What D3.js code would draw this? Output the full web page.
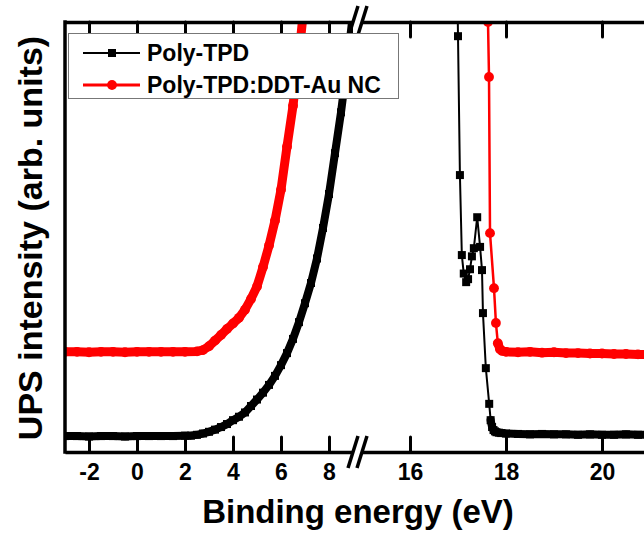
<!DOCTYPE html>
<html lang="en">

<head>
    <meta charset="UTF-8">
    <title>UPS spectra</title>
    <script src="https://d3js.org/d3.v7.min.js"></script>
    <style>
        body { margin: 0; background: #fff; }
        text { font-family: "Liberation Sans", Arial, sans-serif; font-weight: bold; fill: #000; }
    </style>
</head>

<body>
    <div id="chart"></div>

    <script>
        // Series names for the legend
        const seriesNames = ["Poly-TPD", "Poly-TPD:DDT-Au NC"];

        // [binding energy (eV), intensity (arb.)]
        // low energy part (left of the axis break)
        const polyTpdLow = [
            [-3, 3.7], [-2.5, 3.7], [-2, 3.6], [-1.5, 3.7], [-1, 3.7], [-0.5, 3.6], [0, 3.7], [0.5, 3.7],
            [1, 3.7], [1.5, 3.7], [2, 3.8], [2.25, 3.8], [2.5, 4.0], [2.75, 4.3], [3, 4.7], [3.25, 5.2],
            [3.5, 5.8], [3.75, 6.5], [4, 7.4], [4.25, 8.2], [4.5, 9.2], [4.75, 10.7], [5, 12.2], [5.25, 13.8],
            [5.5, 15.6], [5.75, 17.7], [6, 20.2], [6.25, 23.0], [6.5, 26.3], [6.75, 30.2], [7, 34.6],
            [7.25, 39.3], [7.5, 45.0], [7.75, 52.1], [8, 60.0], [8.25, 69.5], [8.5, 79.0], [8.75, 90.0], [9, 102]
        ];
        const auNcLow = [
            [-3, 23.3], [-2.5, 23.3], [-2, 23.2], [-1.5, 23.3], [-1, 23.3], [-0.5, 23.2], [0, 23.3], [0.5, 23.3],
            [1, 23.3], [1.5, 23.3], [2, 23.3], [2.5, 23.4], [2.75, 23.7], [3, 24.6], [3.25, 25.9], [3.5, 27.2],
            [3.75, 28.6], [4, 29.9], [4.25, 31.2], [4.5, 33.1], [4.75, 35.6], [5, 38.5], [5.25, 43.0],
            [5.5, 48.0], [5.75, 53.8], [6, 61.0], [6.25, 71.0], [6.5, 80.5], [6.75, 92.5], [7, 106]
        ];
        // high energy part (right of the axis break)
        const polyTpdHigh = [
            [16.96, 130], [17.0, 96.7], [17.04, 64.4], [17.08, 45.8], [17.12, 41.5], [17.17, 39.5],
            [17.21, 40.2], [17.25, 42.5], [17.29, 45.5], [17.33, 47.4], [17.4, 54.6], [17.46, 47.7],
            [17.5, 42.3], [17.52, 32.3], [17.58, 19.5], [17.65, 11.2], [17.68, 7.4], [17.71, 5.8],
            [17.74, 5.1], [17.77, 4.8], [17.8, 4.6], [17.85, 4.5], [17.9, 4.4], [18, 4.3], [18.25, 4.2],
            [18.5, 4.1], [18.75, 4.2], [19, 4.1], [19.25, 4.1], [19.5, 4.0], [19.75, 4.1], [20, 4.0],
            [20.25, 4.0], [20.5, 4.1], [20.75, 4.0], [21, 4.0]
        ];
        const auNcHigh = [
            [17.6, 120], [17.625, 100], [17.646, 87.2], [17.667, 50.9], [17.75, 38.1], [17.79, 30.0],
            [17.83, 25.3], [17.875, 23.9], [17.92, 23.5], [18, 23.3], [18.25, 23.2], [18.5, 23.3],
            [18.75, 23.1], [19, 23.2], [19.25, 23.0], [19.5, 23.0], [19.75, 22.9], [20, 22.9],
            [20.25, 22.8], [20.5, 22.8], [20.75, 22.7], [21, 22.7]
        ];

        // Tick labels on both sides of the break
        const lowTicks = [-2, 0, 2, 4, 6, 8];
        const highTicks = [16, 18, 20];

        // where the dense (merged marker) part of the high energy curves begins
        const polyTpdDenseFrom = 17.68;
        const auNcDenseFrom = 17.83;

        // Layout
        const width = 644, height = 535;
        const plotLeft = 65, plotTop = 22, plotBottom = 452;
        const breakLeft = 353, breakRight = 362, plotRight = 650;

        const xLow = d3.scaleLinear().domain([-3, 9]).range([plotLeft, breakLeft]);
        const xHigh = d3.scaleLinear().domain([15, 21]).range([breakRight, plotRight]);
        const yScale = d3.scaleLinear().domain([0, 100]).range([plotBottom, plotTop]);

        const svg = d3.select("#chart")
            .append("svg")
            .attr("width", width)
            .attr("height", height);

        const defs = svg.append("defs");
        defs.append("clipPath").attr("id", "clip-low")
            .append("rect")
            .attr("x", plotLeft).attr("y", plotTop)
            .attr("width", breakLeft - plotLeft).attr("height", plotBottom - plotTop);
        defs.append("clipPath").attr("id", "clip-high")
            .append("rect")
            .attr("x", breakRight).attr("y", plotTop)
            .attr("width", plotRight - breakRight).attr("height", plotBottom - plotTop);

        const squareSym = d3.symbol(d3.symbolSquare, 64);
        const circleSym = d3.symbol(d3.symbolCircle, 76);

        // draw one series on one side of the break
        function drawSeries(g, data, x, color, symbol, thinWidth, thickWidth, denseFrom) {
            const line = d3.line().x(d => x(d[0])).y(d => yScale(d[1]));

            g.append("path")
                .datum(data)
                .attr("fill", "none")
                .attr("stroke", color)
                .attr("stroke-width", thinWidth)
                .attr("stroke-linejoin", "round")
                .attr("d", line);

            // the dense part reads as a thick band of markers
            g.append("path")
                .datum(data.filter(d => d[0] >= denseFrom))
                .attr("fill", "none")
                .attr("stroke", color)
                .attr("stroke-width", thickWidth)
                .attr("stroke-linejoin", "round")
                .attr("stroke-linecap", "round")
                .attr("d", line);

            g.selectAll(null)
                .data(data)
                .enter()
                .append("path")
                .attr("d", symbol)
                .attr("fill", color)
                .attr("transform", d => "translate(" + x(d[0]) + "," + yScale(d[1]) + ")");
        }

        const lowG = svg.append("g").attr("clip-path", "url(#clip-low)");
        const highG = svg.append("g").attr("clip-path", "url(#clip-high)");

        drawSeries(lowG, auNcLow, xLow, "#ff0000", circleSym, 2.5, 9, -Infinity);
        drawSeries(lowG, polyTpdLow, xLow, "#000000", squareSym, 2, 8, -Infinity);
        drawSeries(highG, auNcHigh, xHigh, "#ff0000", circleSym, 2.5, 9, auNcDenseFrom);
        drawSeries(highG, polyTpdHigh, xHigh, "#000000", squareSym, 2, 8, polyTpdDenseFrom);

        // Axes (ticks point inward)
        function styleAxis(g) {
            g.select(".domain").attr("stroke", "#000").attr("stroke-width", 3.5);
            g.selectAll(".tick line")
                .attr("stroke", "#000")
                .attr("stroke-width", 3)
                .attr("stroke-linecap", "round");
            g.selectAll(".tick text")
                .style("font-size", "23px")
                .attr("fill", "#000");
        }

        [[xLow, lowTicks], [xHigh, highTicks]].forEach(([x, ticks]) => {
            svg.append("g")
                .attr("transform", "translate(0," + plotBottom + ")")
                .call(d3.axisBottom(x).tickValues(ticks).tickSizeInner(-15).tickSizeOuter(0)
                    .tickPadding(12).tickFormat(d => String(d)))
                .call(styleAxis);

            svg.append("g")
                .attr("transform", "translate(0," + plotTop + ")")
                .call(d3.axisTop(x).tickValues(ticks).tickSizeInner(-15).tickSizeOuter(0).tickFormat(""))
                .call(styleAxis);
        });

        // left axis, no ticks
        svg.append("line")
            .attr("x1", plotLeft).attr("x2", plotLeft)
            .attr("y1", plotTop - 1.75).attr("y2", plotBottom + 1.75)
            .attr("stroke", "#000")
            .attr("stroke-width", 3.5);

        // break marks "//" on top and bottom axes
        [plotTop, plotBottom].forEach(yy => {
            [breakLeft, breakRight].forEach(xx => {
                svg.append("line")
                    .attr("x1", xx - 5).attr("y1", yy + 16)
                    .attr("x2", xx + 5).attr("y2", yy - 16)
                    .attr("stroke", "#000")
                    .attr("stroke-width", 3.5);
            });
        });

        // Axis titles
        svg.append("text")
            .attr("x", 358)
            .attr("y", 523)
            .attr("text-anchor", "middle")
            .style("font-size", "33px")
            .text("Binding energy (eV)");

        svg.append("text")
            .attr("transform", "translate(42,238) rotate(-90)")
            .attr("text-anchor", "middle")
            .style("font-size", "34px")
            .text("UPS intensity (arb. units)");

        // Legend
        const legend = svg.append("g");
        legend.append("rect")
            .attr("x", 68.5).attr("y", 33.5)
            .attr("width", 330).attr("height", 65)
            .attr("fill", "#fff")
            .attr("stroke", "#777")
            .attr("stroke-width", 1);

        const legendItems = [
            { name: seriesNames[0], color: "#000000", symbol: squareSym, lw: 2, y: 53 },
            { name: seriesNames[1], color: "#ff0000", symbol: circleSym, lw: 3, y: 85 }
        ];
        legendItems.forEach(item => {
            legend.append("line")
                .attr("x1", 83).attr("x2", 140)
                .attr("y1", item.y).attr("y2", item.y)
                .attr("stroke", item.color)
                .attr("stroke-width", item.lw);
            legend.append("path")
                .attr("d", item.symbol)
                .attr("fill", item.color)
                .attr("transform", "translate(112," + item.y + ")");
            legend.append("text")
                .attr("x", 147)
                .attr("y", item.y + 8)
                .style("font-size", "23px")
                .text(item.name);
        });
    </script>
</body>

</html>
